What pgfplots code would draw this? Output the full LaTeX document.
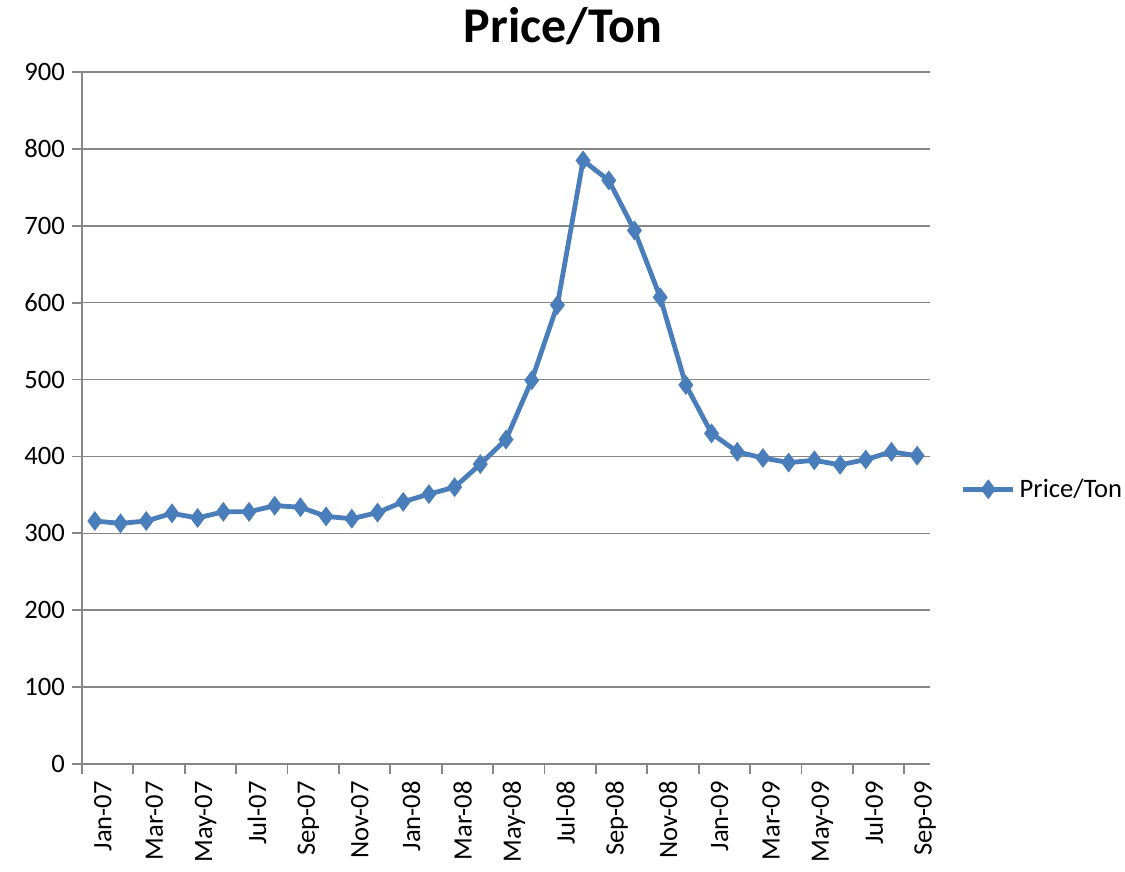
\documentclass[border=0pt]{standalone}
\usepackage{pgfplots}
\pgfplotsset{compat=1.18}
\usepackage{fontspec}
\setmainfont{Carlito}
\definecolor{excelblue}{HTML}{4A7EBB}
\definecolor{axgray}{HTML}{868686}
\begin{document}
\begin{tikzpicture}
\useasboundingbox (0,0) rectangle (562.5pt,436pt);
\node[font=\fontsize{25}{30}\selectfont\bfseries, anchor=base] at (281.5pt,414.5pt) {Price/Ton};
\begin{axis}[
  at={(41pt,54pt)}, anchor=south west,
  width=424pt, height=346pt, scale only axis,
  xmin=-0.5, xmax=32.5, ymin=0, ymax=900,
  axis lines*=left,
  axis line style={axgray, line width=0.9pt},
  ytick={0,100,...,900},
  ymajorgrids,
  grid style={axgray, line width=0.8pt},
  tick style={axgray, line width=0.9pt},
  major tick length=5pt,
  tick align=outside,
  xtick={0,2,...,32},
  xticklabels={Jan-07,Mar-07,May-07,Jul-07,Sep-07,Nov-07,Jan-08,Mar-08,May-08,Jul-08,Sep-08,Nov-08,Jan-09,Mar-09,May-09,Jul-09,Sep-09},
  x tick style={xshift=-6.424pt},
  xticklabel style={rotate=90, anchor=east, yshift=-4pt},
  ticklabel style={font=\fontsize{13.3}{16}\selectfont, text=black},
  /pgf/number format/assume math mode=true,
  legend style={at={(1.036,0.397)}, anchor=west, draw=none, fill=none, inner sep=0pt,
    font=\fontsize{13.3}{16}\selectfont, legend cell align=left},
  legend image code/.code={\draw[mark repeat=2, mark phase=2] plot coordinates {(0pt,0pt) (12.5pt,0pt) (25pt,0pt)};},
]
\addplot[excelblue, line width=2.4pt, mark=diamond*, mark size=4.5pt, mark options={fill=excelblue, draw=excelblue, line width=0.6pt}] coordinates {
(0,316) (1,313) (2,316) (3,326) (4,320) (5,328) (6,328) (7,336) (8,334) (9,322) (10,319)
(11,327) (12,341) (13,351) (14,360) (15,390) (16,422) (17,499) (18,597) (19,785) (20,759)
(21,694) (22,607) (23,493) (24,430) (25,406) (26,398) (27,392) (28,395) (29,389) (30,396)
(31,406) (32,401)};
\addlegendentry{Price/Ton}
\end{axis}
\end{tikzpicture}
\end{document}
